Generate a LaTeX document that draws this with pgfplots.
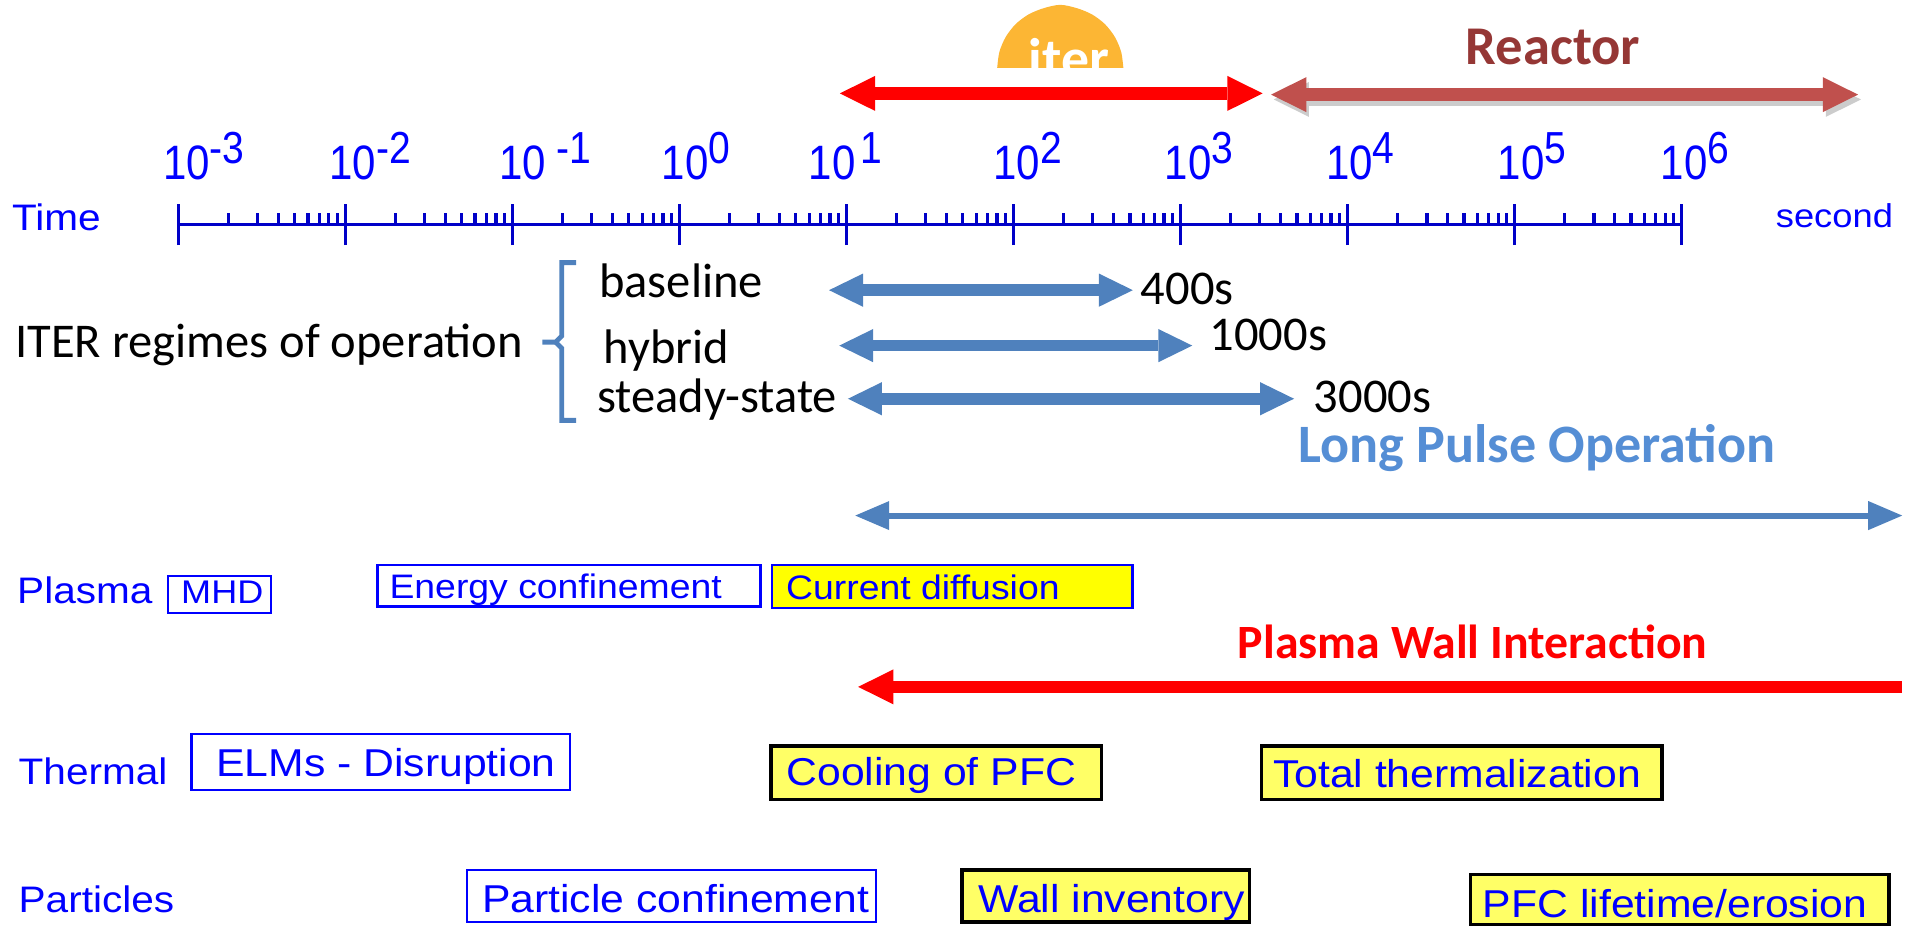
\documentclass[border=0pt]{standalone}
\usepackage{fontspec}
\setmainfont{Liberation Sans}
\usepackage{pgfplots}
\pgfplotsset{compat=1.18}
\usetikzlibrary{arrows.meta}
\newfontfamily\af[FakeStretch=1.1]{Liberation Sans}
\newfontfamily\tf[FakeStretch=0.87]{Liberation Sans}
\newfontfamily\cf{Carlito}
\newcommand{\fs}[1]{\fontsize{#1}{#1}\selectfont}
\definecolor{tickblue}{RGB}{0,0,255}
\definecolor{rulerblue}{RGB}{0,0,200}
\definecolor{regblue}{RGB}{79,129,189}
\definecolor{lpoblue}{RGB}{85,142,213}
\definecolor{reactortext}{RGB}{149,55,53}
\definecolor{reactorarrow}{RGB}{192,80,77}
\definecolor{domeor}{RGB}{252,182,52}
\definecolor{yelA}{RGB}{255,255,0}
\definecolor{yelB}{RGB}{255,255,102}
\tikzset{
  bigtip/.tip={Triangle[width=14.4pt,length=14.5pt,line width=0pt]},
  regtip/.tip={Triangle[width=13.7pt,length=14pt,line width=0pt]},
  lpotip/.tip={Triangle[width=12pt,length=14pt,line width=0pt]},
}
\newcommand{\tlab}[3]{\tf\fs{19.9pt}10\hspace{#1}\raisebox{6.8pt}{\fs{18.5pt}#2#3}}
\newcommand{\bx}[6]{\addplot[draw=#5, fill=#6, line width=1pt] coordinates {(#1,#2) (#3,#2) (#3,#4) (#1,#4)} -- cycle;}
\begin{document}
\begin{tikzpicture}
\begin{axis}[at={(0,0)}, anchor=south west, scale only axis, width=784pt, height=381.5pt,
  xmin=0, xmax=1568, ymin=0, ymax=763, y dir=reverse, hide axis, clip=false]
\path (axis cs:0,0) rectangle (axis cs:1568,763);
% ITER logo dome
\addplot[fill=domeor, draw=none, smooth] coordinates {(822,56) (823.8,42.8) (829,30.5) (837.2,19.9) (848,11.8) (860.5,6.7) (874,4) (887.5,6.7) (900,11.8) (910.8,19.9) (919,30.5) (924.2,42.8) (926,56)} -- cycle;
\node[anchor=base, text=white, inner sep=0pt] at (axis cs:881,63.5) {\cf\bfseries\fs{23pt}iter};
% top arrows
\addplot[red, line width=5.5pt, {bigtip}-{bigtip}] coordinates {(692.3,77) (1040.8,77)};
\addplot[gray!40, line width=5.5pt, {bigtip}-{bigtip}] coordinates {(1050,82) (1534,82)};
\addplot[reactorarrow, line width=5.5pt, {bigtip}-{bigtip}] coordinates {(1047.8,78) (1531.6,78)};
\node[anchor=base west, text=reactortext, inner sep=0pt] at (axis cs:1208,53.4) {\cf\bfseries\fs{22.5pt}Reactor};
% time axis labels
\node[anchor=base west, text=tickblue, inner sep=0pt] at (axis cs:9.6,190.4) {\af\fs{15.2pt}Time};
\node[anchor=base west, text=tickblue, inner sep=0pt] at (axis cs:1463.5,187.6) {\af\fs{13.6pt}second};
\node[anchor=base west, text=tickblue, inner sep=0pt] at (axis cs:134,148) {\tlab{0pt}{-}{3}};
\node[anchor=base west, text=tickblue, inner sep=0pt] at (axis cs:271.3,148) {\tlab{0pt}{-}{2}};
\node[anchor=base west, text=tickblue, inner sep=0pt] at (axis cs:411,148) {\tlab{4.5pt}{-}{1}};
\node[anchor=base west, text=tickblue, inner sep=0pt] at (axis cs:545,148) {\tlab{0pt}{}{0}};
\node[anchor=base west, text=tickblue, inner sep=0pt] at (axis cs:666.2,148) {\tlab{2pt}{}{1}};
\node[anchor=base west, text=tickblue, inner sep=0pt] at (axis cs:818.6,148) {\tlab{0pt}{}{2}};
\node[anchor=base west, text=tickblue, inner sep=0pt] at (axis cs:959.8,148) {\tlab{0pt}{}{3}};
\node[anchor=base west, text=tickblue, inner sep=0pt] at (axis cs:1092.8,148) {\tlab{0pt}{}{4}};
\node[anchor=base west, text=tickblue, inner sep=0pt] at (axis cs:1234.2,148) {\tlab{0pt}{}{5}};
\node[anchor=base west, text=tickblue, inner sep=0pt] at (axis cs:1368.7,148) {\tlab{0pt}{}{6}};
% ITER regimes
\node[anchor=base west, inner sep=0pt] at (axis cs:12.3,294.5) {\cf\fs{20pt}ITER regimes of operation};
\addplot[regblue, line width=2pt] coordinates {(475,216.5) (463,216.5) (463,277) (458,282) (447,282)};
\addplot[regblue, line width=2pt] coordinates {(458,282) (463,287) (463,346.5) (475,346.5)};
\node[anchor=base west, inner sep=0pt] at (axis cs:493.5,245) {\cf\fs{20pt}baseline};
\node[anchor=base west, inner sep=0pt] at (axis cs:497,300) {\cf\fs{20pt}hybrid};
\node[anchor=base west, inner sep=0pt] at (axis cs:492,340) {\cf\fs{20pt}steady-state};
\addplot[regblue, line width=4.8pt, {regtip}-{regtip}] coordinates {(683.4,239.2) (933.8,239.2)};
\addplot[regblue, line width=4.8pt, {regtip}-{regtip}] coordinates {(691.8,284.9) (982.8,284.9)};
\addplot[regblue, line width=4.8pt, {regtip}-{regtip}] coordinates {(699,328.7) (1066.7,328.7)};
\node[anchor=base west, inner sep=0pt] at (axis cs:940,250.7) {\cf\fs{20pt}400s};
\node[anchor=base west, inner sep=0pt] at (axis cs:996.7,289) {\cf\fs{20pt}1000s};
\node[anchor=base west, inner sep=0pt] at (axis cs:1082.6,339.7) {\cf\fs{20pt}3000s};
% Long pulse operation
\node[anchor=base west, text=lpoblue, inner sep=0pt] at (axis cs:1070,381) {\cf\bfseries\fs{22.3pt}Long Pulse Operation};
\addplot[regblue, line width=2.5pt, {lpotip}-{lpotip}] coordinates {(705,425) (1568,425)};
% Plasma row
\node[anchor=base west, text=tickblue, inner sep=0pt] at (axis cs:13.8,497.2) {\af\fs{15.2pt}Plasma};
\bx{138.4}{475}{223.2}{505.5}{tickblue}{white}
\node[anchor=base west, text=tickblue, inner sep=0pt] at (axis cs:149,497.2) {\af\fs{13.5pt}MHD};
\bx{311}{465.7}{627}{500}{tickblue}{white}
\node[anchor=base west, text=tickblue, inner sep=0pt] at (axis cs:320.7,493) {\af\fs{14pt}Energy confinement};
\bx{636.3}{465.7}{933.7}{501}{tickblue}{yelA}
\node[anchor=base west, text=tickblue, inner sep=0pt] at (axis cs:647.6,494.5) {\af\fs{14pt}Current diffusion};
% Plasma wall interaction
\node[anchor=base west, text=red, inner sep=0pt] at (axis cs:1020,543) {\cf\bfseries\fs{19.7pt}Plasma Wall Interaction};
\addplot[red, line width=4.8pt, {bigtip}-] coordinates {(707.4,566.2) (1568,566.2)};
% Thermal row
\node[anchor=base west, text=tickblue, inner sep=0pt] at (axis cs:15,646.5) {\af\fs{15.2pt}Thermal};
\bx{158}{605}{470}{651.4}{tickblue}{white}
\node[anchor=base west, text=tickblue, inner sep=0pt] at (axis cs:178,640) {\af\fs{16pt}ELMs - Disruption};
\addplot[draw=black, fill=yelB, line width=1.5pt] coordinates {(635.5,615) (908,615) (908,659) (635.5,659)} -- cycle;
\node[anchor=base west, text=tickblue, inner sep=0pt] at (axis cs:648,647.9) {\af\fs{16pt}Cooling of PFC};
\addplot[draw=black, fill=yelB, line width=1.5pt] coordinates {(1040,615) (1370,615) (1370,659) (1040,659)} -- cycle;
\node[anchor=base west, text=tickblue, inner sep=0pt] at (axis cs:1049,649) {\af\fs{16pt}Total thermalization};
% Particles row
\node[anchor=base west, text=tickblue, inner sep=0pt] at (axis cs:15,752) {\af\fs{15.2pt}Particles};
\bx{385}{717.2}{722}{760.2}{tickblue}{white}
\node[anchor=base west, text=tickblue, inner sep=0pt] at (axis cs:397,752) {\af\fs{16pt}Particle confinement};
\addplot[draw=black, fill=yelB, line width=1.5pt] coordinates {(793,717.2) (1030,717.2) (1030,760.2) (793,760.2)} -- cycle;
\node[anchor=base west, text=tickblue, inner sep=0pt] at (axis cs:806,752) {\af\fs{16pt}Wall inventory};
\addplot[draw=black, fill=yelB, line width=1.5pt] coordinates {(1212,721) (1557,721) (1557,762) (1212,762)} -- cycle;
\node[anchor=base west, text=tickblue, inner sep=0pt] at (axis cs:1222,756) {\af\fs{16pt}PFC lifetime/erosion};
\end{axis}
% time ruler: major ticks
\begin{axis}[at={(73.4pt,289pt)}, anchor=south west, scale only axis, width=619.55pt, height=10pt,
  xmode=log, log basis x=10, xmin=1e-3, xmax=1e6, ymin=0, ymax=1,
  axis x line=bottom, axis y line=none, x axis line style={-, rulerblue, line width=1.4pt},
  xticklabel={\relax}, xtick align=center, major tick length=17pt, minor tick length=0pt,
  tick style={rulerblue, line width=1.3pt}]
\addplot[draw=none] coordinates {(1,0.5)};
\end{axis}
% time ruler: minor ticks
\begin{axis}[at={(73.4pt,289pt)}, anchor=south west, scale only axis, width=619.55pt, height=10pt,
  xmode=log, log basis x=10, xmin=1e-3, xmax=1e6, ymin=0, ymax=1,
  axis x line=bottom, axis y line=none, x axis line style={-, rulerblue, line width=1.4pt},
  xticklabel={\relax}, xtick align=inside, major tick length=0pt, minor tick length=4.8pt,
  tick style={rulerblue, line width=1.3pt}]
\addplot[draw=none] coordinates {(1,0.5)};
\end{axis}
\end{tikzpicture}
\end{document}
